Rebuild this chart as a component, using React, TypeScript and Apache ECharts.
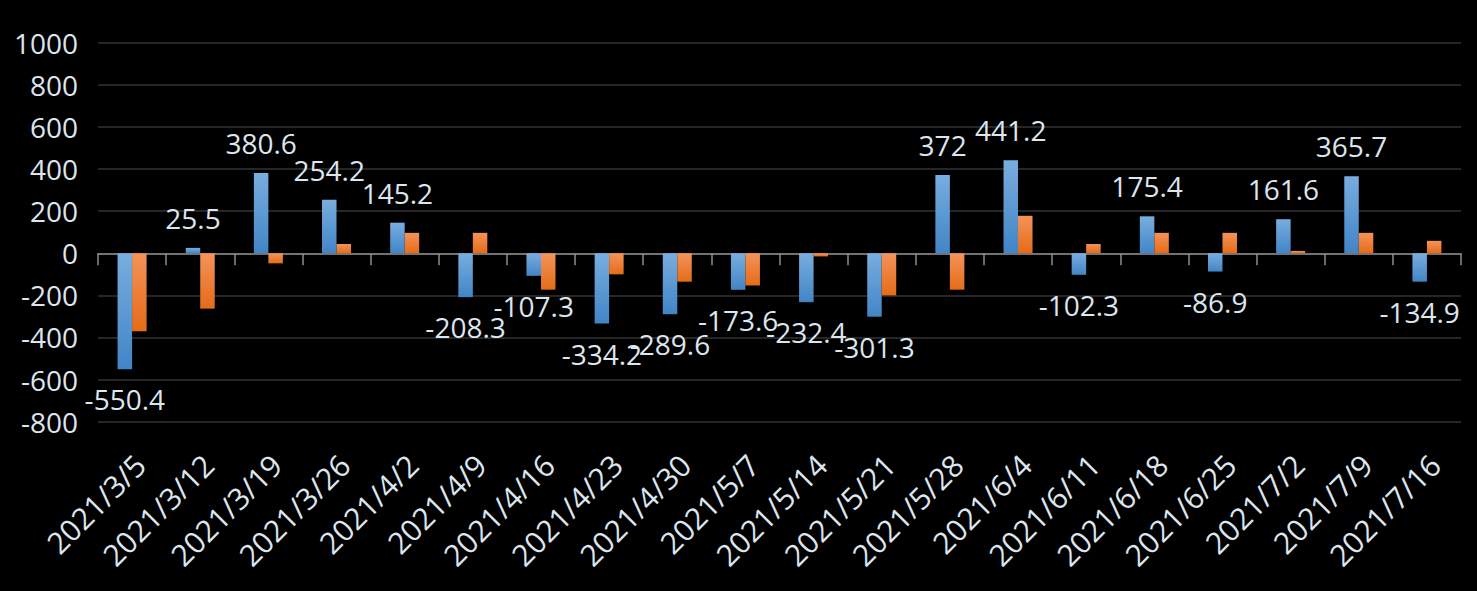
import React, { useEffect, useRef } from "react";
import * as echarts from "echarts";

const categories = [
  "2021/3/5", "2021/3/12", "2021/3/19", "2021/3/26", "2021/4/2", "2021/4/9",
  "2021/4/16", "2021/4/23", "2021/4/30", "2021/5/7", "2021/5/14", "2021/5/21",
  "2021/5/28", "2021/6/4", "2021/6/11", "2021/6/18", "2021/6/25", "2021/7/2",
  "2021/7/9", "2021/7/16",
];

const blueValues = [
  -550.4, 25.5, 380.6, 254.2, 145.2, -208.3, -107.3, -334.2, -289.6, -173.6,
  -232.4, -301.3, 372, 441.2, -102.3, 175.4, -86.9, 161.6, 365.7, -134.9,
];

const orangeValues = [
  -370, -263, -48, 44, 97, 97, -173, -100, -135, -153,
  -15, -200, -173, 178, 44, 97, 97, 11, 97, 59,
];

const yMin = -800;
const yMax = 1000;
const yInterval = 200;

const FONT = "'Open Sans', 'Noto Sans', sans-serif";
const TEXT_COLOR = "#dde5ee";

export default function App() {
  const ref = useRef<HTMLDivElement>(null);

  useEffect(() => {
    if (!ref.current) return;
    const chart = echarts.init(ref.current, null, { renderer: "svg" });

    const blueGrad = new echarts.graphic.LinearGradient(0, 0, 0, 1, [
      { offset: 0, color: "#79addf" },
      { offset: 1, color: "#4185c6" },
    ]);
    const orangeGrad = new echarts.graphic.LinearGradient(0, 0, 0, 1, [
      { offset: 0, color: "#f4935a" },
      { offset: 1, color: "#e46c18" },
    ]);

    chart.setOption({
      animation: false,
      backgroundColor: "#000000",
      grid: [
        { left: 98, right: 16, top: 42.7, bottom: 169.3, containLabel: false },
        { left: 106, right: 8, top: 42.7, bottom: 169.3, containLabel: false },
      ],
      xAxis: [
        {
          type: "category",
          gridIndex: 0,
          data: categories,
          axisLine: { show: true, onZero: true, lineStyle: { color: "#8c8c8c", width: 1.5 } },
          axisTick: { show: true, interval: 0, length: 12, lineStyle: { color: "#8c8c8c", width: 1.5 } },
          axisLabel: { show: true, interval: 0, formatter: () => "", fontSize: 1 },
          splitLine: { show: false },
        },
        {
          type: "category",
          gridIndex: 1,
          data: categories,
          position: "bottom",
          axisLine: { show: false, onZero: false },
          axisTick: { show: false },
          axisLabel: {
            show: true,
            rotate: 45,
            margin: 38,
            interval: 0,
            color: TEXT_COLOR,
            fontFamily: FONT,
            fontSize: 30,
          },
          splitLine: { show: false },
        },
      ],
      yAxis: [
        {
          type: "value",
          gridIndex: 0,
          min: yMin,
          max: yMax,
          interval: yInterval,
          axisLine: { show: false },
          axisTick: { show: false },
          axisLabel: {
            color: TEXT_COLOR,
            fontFamily: FONT,
            fontSize: 28,
            margin: 20,
            formatter: (v: number) => String(v),
          },
          splitLine: { show: true, lineStyle: { color: "#262626", width: 2 } },
        },
        {
          type: "value",
          gridIndex: 1,
          min: yMin,
          max: yMax,
          interval: yInterval,
          show: false,
        },
      ],
      series: [
        {
          type: "bar",
          xAxisIndex: 0,
          yAxisIndex: 0,
          barWidth: 14.5,
          barGap: "0%",
          itemStyle: { color: blueGrad },
          data: blueValues.map((v) => ({
            value: v,
            label: { position: v >= 0 ? "top" : "bottom" },
          })),
          label: {
            show: true,
            distance: 16,
            color: TEXT_COLOR,
            fontFamily: FONT,
            fontSize: 28,
            formatter: (p: any) => String(p.value),
          },
        },
        {
          type: "bar",
          xAxisIndex: 0,
          yAxisIndex: 0,
          barWidth: 14.5,
          barGap: "0%",
          itemStyle: { color: orangeGrad },
          data: orangeValues,
        },
      ],
    });

    return () => chart.dispose();
  }, []);

  return (
    <div
      ref={ref}
      style={{ position: "fixed", left: 0, top: 0, width: 1477, height: 591, background: "#000" }}
    />
  );
}
